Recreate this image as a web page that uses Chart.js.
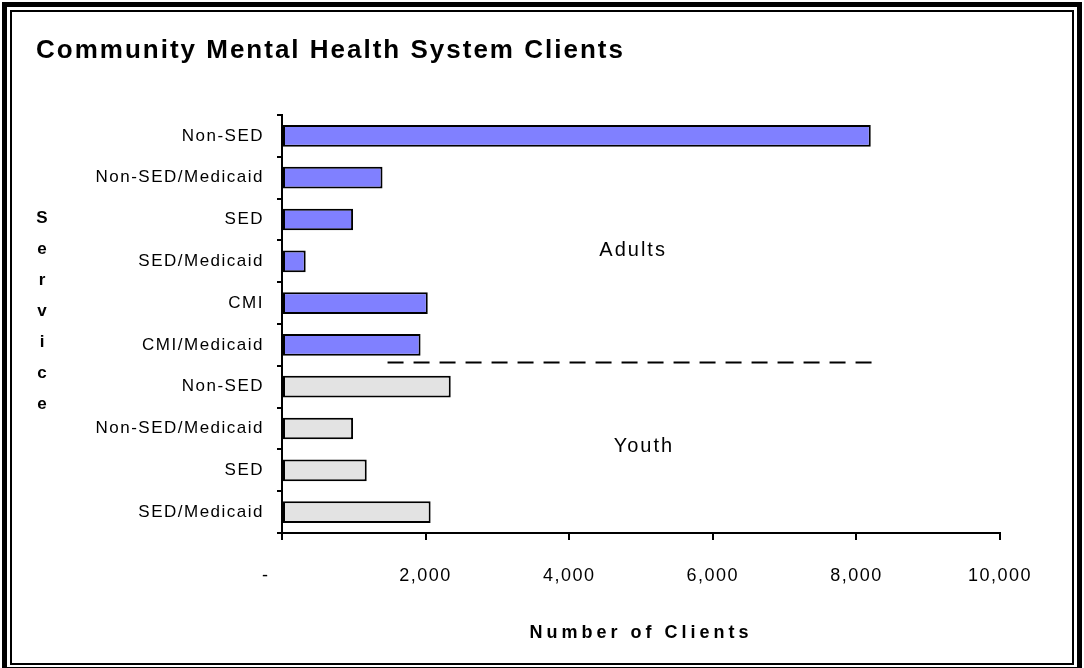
<!DOCTYPE html>
<html>
<head>
<meta charset="utf-8">
<title>Community Mental Health System Clients</title>
<script src="https://cdn.jsdelivr.net/npm/chart.js@4.4.1/dist/chart.umd.min.js"></script>
<style>
  html, body { margin: 0; padding: 0; background: #fff; }
  #wrap { position: relative; width: 1084px; height: 668px; overflow: hidden; }
  #chart { position: absolute; left: 0; top: 0; }
  .frame-outer { position: absolute; left: 2px; top: 2px; right: 2px; bottom: -4px; border: 5px solid #000; }
  .frame-inner { position: absolute; left: 10px; top: 10px; right: 10px; bottom: 3px; border: 2px solid #000; }
</style>
</head>
<body>
<div id="wrap">
  <canvas id="chart" width="1084" height="668"></canvas>
  <div class="frame-outer"></div>
  <div class="frame-inner"></div>
</div>
<script>
// Service categories, top to bottom
const adultCategories = ['Non-SED', 'Non-SED/Medicaid', 'SED', 'SED/Medicaid', 'CMI', 'CMI/Medicaid'];
const youthCategories = ['Non-SED', 'Non-SED/Medicaid', 'SED', 'SED/Medicaid'];

// Number of clients
const adultValues = [8200, 1400, 990, 330, 2030, 1930];
const youthValues = [2350, 990, 1180, 2070];

const xTickLabels = ['-', '2,000', '4,000', '6,000', '8,000', '10,000'];

const chartTitle = 'Community Mental Health System Clients';
const xAxisTitle = 'Number of Clients';
const yAxisTitle = 'Service';
const groupNames = ['Adults', 'Youth'];

// annotation anchors, in data units (x value, category index)
const groupLabelAt = [[4890, 2.75], [5040, 7.44]];
const divider = { from: 1470, to: 8300, at: 5.42 };

const FONT = "'Liberation Sans', Arial, sans-serif";
Chart.defaults.font.family = FONT;
Chart.defaults.color = '#000';

// one combined axis, adults first then youth
const categories = [...adultCategories, ...youthCategories];
const pad = (n) => new Array(n).fill(null);

const annotations = {
  id: 'annotations',
  beforeDraw(chart) {
    chart.ctx.letterSpacing = '1.5px';
  },
  afterDraw(chart) {
    const { ctx, chartArea, scales: { x, y } } = chart;
    ctx.save();

    // dashed line between the adult and youth groups
    const dy = y.getPixelForValue(divider.at);
    ctx.setLineDash([16, 10]);
    ctx.lineWidth = 2;
    ctx.strokeStyle = '#000';
    ctx.beginPath();
    ctx.moveTo(x.getPixelForValue(divider.from), dy);
    ctx.lineTo(x.getPixelForValue(divider.to), dy);
    ctx.stroke();
    ctx.setLineDash([]);

    ctx.fillStyle = '#000';
    ctx.textBaseline = 'middle';

    // group labels
    ctx.font = `20px ${FONT}`;
    ctx.letterSpacing = '2px';
    ctx.textAlign = 'center';
    groupNames.forEach((name, i) => {
      const [vx, vy] = groupLabelAt[i];
      ctx.fillText(name, x.getPixelForValue(vx), y.getPixelForValue(vy));
    });

    // chart title
    ctx.font = `bold 26px ${FONT}`;
    ctx.letterSpacing = '2px';
    ctx.textAlign = 'left';
    ctx.fillText(chartTitle, 36, 51);

    // x axis title
    ctx.font = `bold 18px ${FONT}`;
    ctx.letterSpacing = '4px';
    ctx.textAlign = 'center';
    ctx.fillText(xAxisTitle, (chartArea.left + chartArea.right) / 2, 633);

    // y axis title, letters stacked
    ctx.font = `bold 17px ${FONT}`;
    ctx.letterSpacing = '0px';
    const step = 31;
    const y0 = 311 - step * (yAxisTitle.length - 1) / 2;
    [...yAxisTitle].forEach((ch, i) => ctx.fillText(ch, 42, y0 + i * step));

    ctx.restore();
  }
};

new Chart(document.getElementById('chart'), {
  type: 'bar',
  data: {
    labels: categories,
    datasets: [
      {
        label: groupNames[0],
        data: [...adultValues, ...pad(youthCategories.length)],
        backgroundColor: '#8080FF',
        borderColor: '#000',
        borderWidth: 2,
        borderSkipped: false,
      },
      {
        label: groupNames[1],
        data: [...pad(adultCategories.length), ...youthValues],
        backgroundColor: '#E3E3E3',
        borderColor: '#000',
        borderWidth: 2,
        borderSkipped: false,
      },
    ],
  },
  options: {
    indexAxis: 'y',
    responsive: false,
    animation: false,
    grouped: false,
    categoryPercentage: 1,
    barPercentage: 0.52,
    layout: { padding: { top: 115, right: 84, left: 0, bottom: 0 } },
    plugins: {
      legend: { display: false },
      tooltip: { enabled: false },
    },
    scales: {
      x: {
        type: 'linear',
        min: 0,
        max: 10000,
        ticks: {
          stepSize: 2000,
          autoSkip: false,
          maxRotation: 0,
          padding: 25,
          color: '#000',
          font: { size: 18 },
          // zero shows as a dash set left of the axis
          callback: (value, i) => (i === 0 ? xTickLabels[i] + '     ' : xTickLabels[i]),
        },
        grid: { drawOnChartArea: false, tickLength: 7, color: '#000', lineWidth: 2 },
        border: { color: '#000', width: 2 },
        afterFit: (scale) => { scale.height = 135; },
      },
      y: {
        type: 'category',
        offset: true,
        ticks: { autoSkip: false, padding: 13, color: '#000', font: { size: 17 } },
        grid: { offset: true, drawOnChartArea: false, tickLength: 5, color: '#000', lineWidth: 2 },
        border: { color: '#000', width: 2 },
        afterFit: (scale) => { scale.width = 282; },
      },
    },
  },
  plugins: [annotations],
});
</script>
</body>
</html>
